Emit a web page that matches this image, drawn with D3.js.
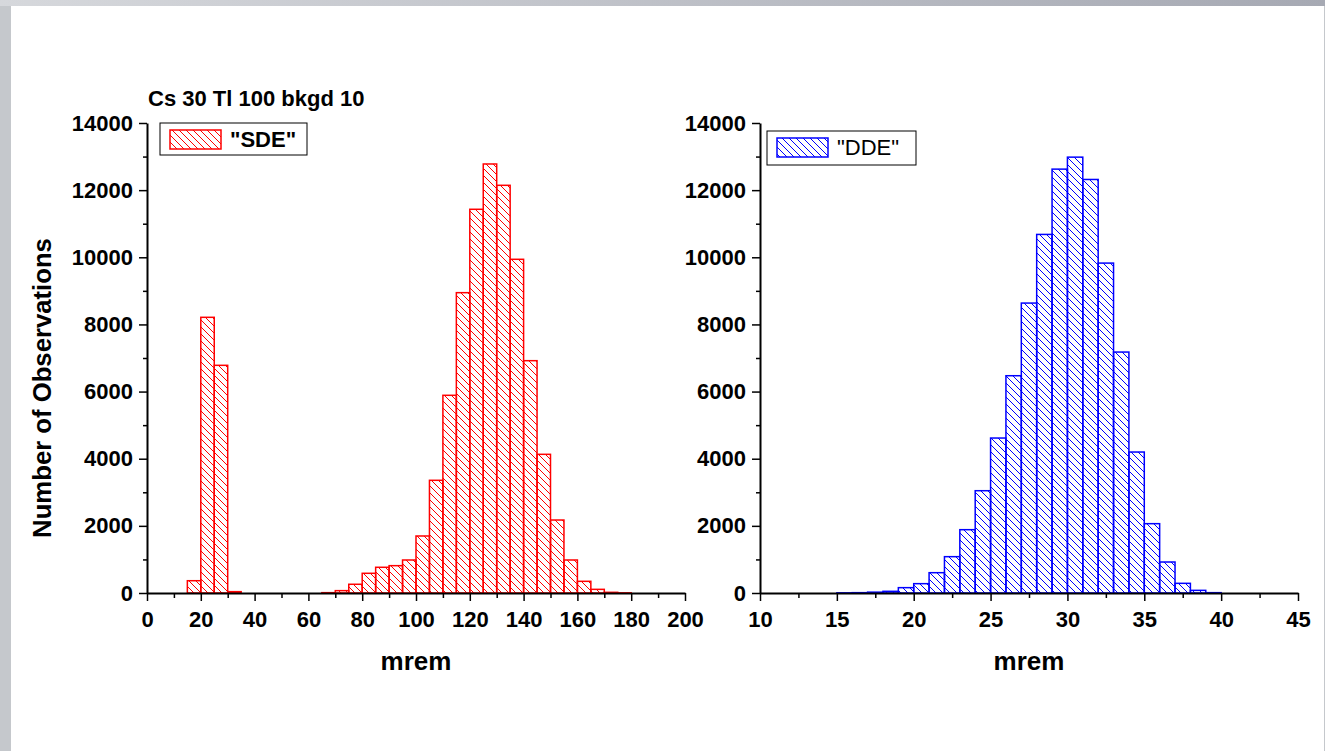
<!DOCTYPE html>
<html>
<head>
<meta charset="utf-8">
<script src="https://cdn.jsdelivr.net/npm/d3@7"></script>
<style>
  body { margin: 0; overflow: hidden; }
  svg text { font-family: "Liberation Sans", Arial, sans-serif; }
</style>
</head>
<body>
<script>
// histogram data, bin start (mrem) and counts
const sdeBins = [15, 20, 25, 30, 65, 70, 75, 80, 85, 90, 95, 100, 105, 110, 115, 120, 125, 130, 135, 140, 145, 150, 155, 160, 165, 170, 175];
const sdeCounts = [366, 8212, 6782, 40, 10, 70, 260, 587, 766, 814, 983, 1698, 3357, 5889, 8946, 11430, 12779, 12144, 9940, 6920, 4131, 2174, 983, 348, 109, 20, 5];
const sdeBinWidth = 5;

const ddeBins = [15, 16, 17, 18, 19, 20, 21, 22, 23, 24, 25, 26, 27, 28, 29, 30, 31, 32, 33, 34, 35, 36, 37, 38, 39];
const ddeCounts = [5, 10, 25, 50, 159, 278, 605, 1082, 1886, 3047, 4616, 6472, 8636, 10681, 12626, 12983, 12318, 9827, 7177, 4199, 2065, 923, 288, 79, 10];
const ddeBinWidth = 1;

const yTicks = [0, 2000, 4000, 6000, 8000, 10000, 12000, 14000];
const sdeXTicks = [0, 20, 40, 60, 80, 100, 120, 140, 160, 180, 200];
const ddeXTicks = [10, 15, 20, 25, 30, 35, 40, 45];

const width = 1325;
const height = 751;

const svg = d3.select('body')
  .append('svg')
  .attr('width', width)
  .attr('height', height);

const defs = svg.append('defs');

// grey frame around the white page
const grad = defs.append('linearGradient').attr('id', 'topGrad');
grad.append('stop').attr('offset', '0%').attr('stop-color', '#d6d8dc');
grad.append('stop').attr('offset', '100%').attr('stop-color', '#a6a9b3');

svg.append('rect').attr('width', width).attr('height', height).attr('fill', '#c5c8cc');
svg.append('rect').attr('width', width).attr('height', 6).attr('fill', 'url(#topGrad)');
svg.append('rect').attr('x', 11).attr('y', 6).attr('width', 1313).attr('height', height - 6).attr('fill', '#fff');

// hatch patterns
function hatch(id, color) {
  const p = defs.append('pattern')
    .attr('id', id)
    .attr('patternUnits', 'userSpaceOnUse')
    .attr('width', 7)
    .attr('height', 7);
  p.append('path')
    .attr('d', 'M0,0L7,7M-2,5L2,9M5,-2L9,2')
    .attr('stroke', color)
    .attr('stroke-width', 1)
    .attr('fill', 'none');
}
hatch('hatchRed', '#ff0000');
hatch('hatchBlue', '#0000ff');

const yScaleTop = 123;
const yScaleBottom = 593;

function drawPanel(opts) {
  const x = d3.scaleLinear().domain(opts.xDomain).range(opts.xRange);
  const y = d3.scaleLinear().domain([0, 14000]).range([yScaleBottom, yScaleTop]);
  const g = svg.append('g');

  // bars
  g.selectAll('rect.bar')
    .data(opts.bins.map((b, i) => ({ x0: b, x1: b + opts.binWidth, n: opts.counts[i] })))
    .enter()
    .append('rect')
    .attr('class', 'bar')
    .attr('x', d => x(d.x0))
    .attr('y', d => y(d.n))
    .attr('width', d => x(d.x1) - x(d.x0))
    .attr('height', d => y(0) - y(d.n))
    .attr('fill', `url(#${opts.pattern})`)
    .attr('stroke', opts.color)
    .attr('stroke-width', 1.5);

  // minor ticks
  g.append('g')
    .attr('transform', `translate(0,${yScaleBottom})`)
    .call(d3.axisBottom(x).tickValues(opts.xMinor).tickSize(5).tickFormat(''))
    .call(a => a.select('.domain').remove());
  g.append('g')
    .attr('transform', `translate(${opts.xRange[0]},0)`)
    .call(d3.axisLeft(y).tickValues(d3.range(1000, 14000, 2000)).tickSize(4).tickFormat(''))
    .call(a => a.select('.domain').remove());

  const xAxis = g.append('g')
    .attr('transform', `translate(0,${yScaleBottom})`)
    .call(d3.axisBottom(x).tickValues(opts.xTicks).tickSize(8).tickSizeOuter(0).tickPadding(10).tickFormat(d3.format('d')));
  const yAxis = g.append('g')
    .attr('transform', `translate(${opts.xRange[0]},0)`)
    .call(d3.axisLeft(y).tickValues(yTicks).tickSize(8).tickSizeOuter(0).tickPadding(6).tickFormat(d3.format('d')));

  g.selectAll('.tick line').attr('stroke', '#000').attr('stroke-width', 1.5);
  g.selectAll('.domain').attr('stroke', '#000').attr('stroke-width', 2);
  [xAxis, yAxis].forEach(a => a.selectAll('text')
    .attr('fill', '#000')
    .style('font-size', '22px')
    .style('font-weight', 'bold'));

  g.append('text')
    .attr('x', (opts.xRange[0] + opts.xRange[1]) / 2)
    .attr('y', 670)
    .attr('text-anchor', 'middle')
    .style('font-size', '26px')
    .style('font-weight', 'bold')
    .text('mrem');

  // legend
  const lg = g.append('g');
  lg.append('rect')
    .attr('x', opts.legend.x).attr('y', opts.legend.y)
    .attr('width', opts.legend.w).attr('height', opts.legend.h)
    .attr('fill', '#fff').attr('stroke', '#000').attr('stroke-width', 1);
  lg.append('rect')
    .attr('x', opts.legend.x + 10).attr('y', opts.legend.y + 7)
    .attr('width', 51).attr('height', 19)
    .attr('fill', `url(#${opts.pattern})`)
    .attr('stroke', opts.color).attr('stroke-width', 1.5);
  lg.append('text')
    .attr('x', opts.legend.x + 70)
    .attr('y', opts.legend.y + 24)
    .style('font-size', '22px')
    .style('font-weight', opts.legend.bold ? 'bold' : 'normal')
    .text(opts.label);
}

drawPanel({
  xDomain: [0, 200], xRange: [147, 685],
  bins: sdeBins, counts: sdeCounts, binWidth: sdeBinWidth,
  xTicks: sdeXTicks, xMinor: d3.range(10, 200, 20),
  color: '#ff0000', pattern: 'hatchRed', label: '"SDE"',
  legend: { x: 160, y: 123, w: 147, h: 32, bold: true }
});

drawPanel({
  xDomain: [10, 45], xRange: [760, 1298],
  bins: ddeBins, counts: ddeCounts, binWidth: ddeBinWidth,
  xTicks: ddeXTicks, xMinor: d3.range(12.5, 45, 5),
  color: '#0000ff', pattern: 'hatchBlue', label: '"DDE"',
  legend: { x: 767, y: 131, w: 149, h: 34, bold: false }
});

svg.append('text')
  .attr('x', 148)
  .attr('y', 106)
  .style('font-size', '22px')
  .style('font-weight', 'bold')
  .text('Cs 30 Tl 100 bkgd 10');

svg.append('text')
  .attr('transform', 'translate(51,388) rotate(-90)')
  .attr('text-anchor', 'middle')
  .style('font-size', '25.7px')
  .style('font-weight', 'bold')
  .text('Number of Observations');
</script>
</body>
</html>
